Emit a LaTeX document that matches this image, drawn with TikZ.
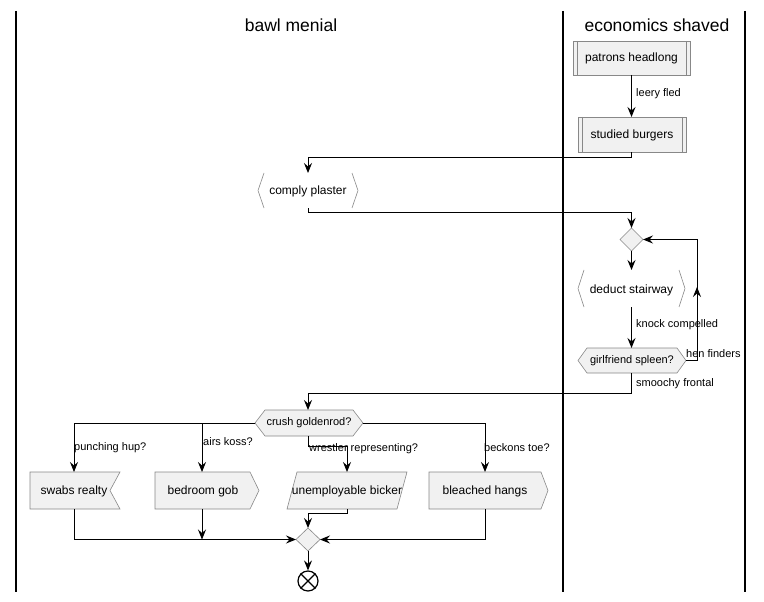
\documentclass[tikz,border=0pt]{standalone}
\usepackage{fontspec}
\setmainfont{Liberation Sans}
\usetikzlibrary{arrows.meta}
\definecolor{boxfill}{HTML}{F1F1F1}
\definecolor{boxline}{HTML}{888888}
\begin{document}
\begin{tikzpicture}[x=1pt,y=-1pt,
  lane/.style={line width=1.6pt,black},
  shp/.style={draw=boxline,fill=boxfill,line width=0.6pt},
  brk/.style={draw=boxline,line width=0.6pt},
  conn/.style={line width=0.9pt,black,-{Stealth[length=10pt,width=8pt,inset=3.5pt]}},
  plain/.style={line width=0.9pt,black},
  txt/.style={font=\fontsize{12}{14}\selectfont,inner sep=0pt},
  small/.style={font=\fontsize{11}{13}\selectfont,inner sep=0pt},
  lbl/.style={font=\fontsize{11}{13}\selectfont,inner sep=0pt,anchor=west},
  title/.style={font=\fontsize{17.5}{20}\selectfont,inner sep=0pt}]
\useasboundingbox (0,0) rectangle (764,602);
% lanes
\draw[lane] (16,11) -- (16,592);
\draw[lane] (563,11) -- (563,592);
\draw[lane] (745,11) -- (745,592);
\node[title] (t1) at (291,25) {bawl menial};
\node[title] (t2) at (657,25) {economics shaved};
% patrons headlong (subroutine)
\draw[shp] (573,41) rectangle (690,75);
\draw[boxline,line width=0.6pt] (577,41) -- (577,75) (686,41) -- (686,75);
\node[txt] (ph) at (631.5,58) {patrons headlong};
\coordinate (phb) at (631.5,75);
% studied burgers
\draw[shp] (578,117) rectangle (686,152);
\draw[boxline,line width=0.6pt] (582,117) -- (582,152) (682,117) -- (682,152);
\node[txt] (sb) at (632,135) {studied burgers};
\coordinate (sbt) at (631.5,117);
\coordinate (sbb) at (631.5,152);
\draw[conn] (phb) -- (sbt);
\node[lbl] (l1) at (636,94) {leery fled};
% comply plaster
\draw[brk] (264,173) -- (258,190.5) -- (264,208);
\draw[brk] (352,173) -- (358,190.5) -- (352,208);
\node[txt] (cp) at (308,191) {comply plaster};
\coordinate (cpt) at (308,173);
\coordinate (cpb) at (308,208);
\draw[conn] (sbb) -- (631.5,157) -- (308,157) -- (cpt);
% merge diamond
\draw[shp] (631.5,228) -- (643,239.5) -- (631.5,251) -- (620,239.5) -- cycle;
\coordinate (d1t) at (631.5,228);
\coordinate (d1b) at (631.5,251);
\coordinate (d1r) at (643,239.5);
\draw[conn] (cpb) -- (308,212) -- (631.5,212) -- (d1t);
% deduct stairway
\draw[brk] (584,270) -- (578,288.5) -- (584,307);
\draw[brk] (679,270) -- (685,288.5) -- (679,307);
\node[txt] (ds) at (631.5,290) {deduct stairway};
\coordinate (dst) at (631.5,270);
\coordinate (dsb) at (631.5,307);
\draw[conn] (d1b) -- (dst);
% girlfriend spleen
\draw[shp] (578,360.5) -- (587,348) -- (677,348) -- (686,360.5) -- (677,373) -- (587,373) -- cycle;
\node[small] (gs) at (632,360.5) {girlfriend spleen?};
\coordinate (gst) at (631.5,348);
\coordinate (gsb) at (631.5,373);
\coordinate (gsr) at (686,360.5);
\draw[conn] (dsb) -- (gst);
\node[lbl] (l2) at (636,325) {knock compelled};
% loop back
\draw[conn] (gsr) -- (697,360.5) -- (697,287);
\draw[conn] (697,290) -- (697,239.5) -- (d1r);
\node[lbl] (l3) at (686,354) {hen finders};
% crush goldenrod
\draw[shp] (255,423) -- (265,410) -- (353,410) -- (363,423) -- (353,436) -- (265,436) -- cycle;
\node[small] (cg) at (309,423) {crush goldenrod?};
\coordinate (cgt) at (308,410);
\coordinate (cgb) at (308,436);
\coordinate (cgl) at (255,423);
\coordinate (cgr) at (363,423);
\draw[conn] (gsb) -- (631.5,393) -- (308,393) -- (cgt);
\node[lbl] (l4) at (636,384) {smoochy frontal};
% branch boxes
\draw[shp] (30,472) -- (120,472) -- (110,490.5) -- (120,509) -- (30,509) -- cycle;
\node[txt] (sr) at (74,491) {swabs realty};
\draw[shp] (155,472) -- (250,472) -- (259,490.5) -- (250,509) -- (155,509) -- cycle;
\node[txt] (bg) at (203,491) {bedroom gob};
\draw[shp] (297,472) -- (407,472) -- (397,509) -- (287,509) -- cycle;
\node[txt] (ub) at (347,491) {unemployable bicker};
\draw[shp] (429,472) -- (541,472) -- (548,490.5) -- (541,509) -- (429,509) -- cycle;
\node[txt] (bh) at (485,491) {bleached hangs};
\coordinate (srt) at (74,472);
\coordinate (bgt) at (202,472);
\coordinate (ubt) at (347,472);
\coordinate (bht) at (485,472);
\coordinate (srb) at (74,509);
\coordinate (bgb) at (202,509);
\coordinate (ubb) at (347,509);
\coordinate (bhb) at (485,509);
\draw[conn] (cgl) -- (74,423) -- (srt);
\draw[conn] (202,423) -- (bgt);
\draw[conn] (cgb) -- (308,446) -- (347,446) -- (ubt);
\draw[conn] (cgr) -- (485,423) -- (bht);
\node[lbl] (b1) at (74,448) {punching hup?};
\node[lbl] (b2) at (203,442) {airs koss?};
\node[lbl] (b3) at (309,449) {wrestler representing?};
\node[lbl] (b4) at (484,448) {beckons toe?};
% merge 2
\draw[shp] (308,528) -- (320,539.5) -- (308,551) -- (296,539.5) -- cycle;
\coordinate (d2t) at (308,528);
\coordinate (d2b) at (308,551);
\coordinate (d2l) at (296,539.5);
\coordinate (d2r) at (320,539.5);
\draw[conn] (srb) -- (74,539.5) -- (d2l);
\draw[conn] (bgb) -- (202,539.5);
\draw[conn] (ubb) -- (347,513) -- (308,513) -- (d2t);
\draw[conn] (bhb) -- (485,539.5) -- (d2r);
% end
\node[draw=black,line width=1.2pt,circle,minimum size=20pt,inner sep=0pt] (end) at (308,581) {};
\draw[line width=1.2pt] (end.north west) -- (end.south east) (end.north east) -- (end.south west);
\draw[conn] (d2b) -- (end);
\end{tikzpicture}
\end{document}
